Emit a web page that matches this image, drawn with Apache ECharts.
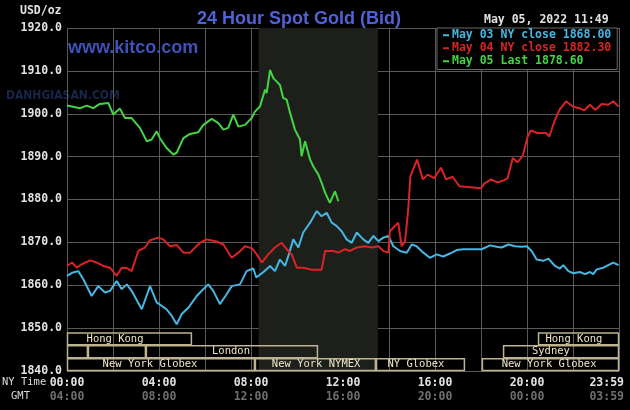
<!DOCTYPE html>
<html>
<head>
<meta charset="utf-8">
<script src="https://cdn.jsdelivr.net/npm/echarts@6/dist/echarts.min.js"></script>
<style>
html,body{margin:0;padding:0;background:#000;}
#chart{width:630px;height:410px;}
</style>
</head>
<body>
<div id="chart"></div>
<script>
// ---- Data (hours NY time, USD/oz) ----
const titleText = '24 Hour Spot Gold (Bid)';
const dateText = 'May 05, 2022 11:49';
const unitText = 'USD/oz';
const seriesNames = ['May 03 NY close 1868.00', 'May 04 NY close 1882.30', 'May 05 Last 1878.60'];
const nyTimeLabels = ['00:00', '04:00', '08:00', '12:00', '16:00', '20:00', '23:59'];
const gmtLabels = ['04:00', '08:00', '12:00', '16:00', '20:00', '00:00', '03:59'];

const may03 = [
[0.00,1862.2],[0.22,1862.9],[0.49,1863.3],[0.71,1861.4],[1.07,1857.5],[1.36,1859.8],[1.65,1858.3],[1.87,1858.7],
[2.16,1861.0],[2.38,1859.1],[2.60,1860.2],[2.81,1858.7],[3.25,1854.4],[3.61,1859.8],[3.90,1856.0],[4.33,1854.4],
[4.55,1852.9],[4.77,1850.9],[4.99,1853.3],[5.28,1854.8],[5.64,1857.5],[5.86,1858.7],[6.14,1860.2],[6.36,1858.7],
[6.65,1855.6],[6.94,1857.9],[7.16,1859.8],[7.52,1860.2],[7.81,1863.3],[8.10,1863.9],[8.23,1861.8],[8.52,1863.0],
[8.83,1864.5],[9.04,1863.3],[9.26,1866.0],[9.48,1864.5],[9.62,1866.8],[9.84,1870.7],[10.06,1868.8],[10.27,1872.3],
[10.57,1874.6],[10.86,1877.3],[11.07,1876.1],[11.29,1876.9],[11.51,1874.6],[11.73,1873.8],[11.94,1872.6],[12.16,1870.7],
[12.38,1869.9],[12.60,1872.3],[12.88,1870.7],[13.10,1869.9],[13.32,1871.5],[13.54,1870.3],[13.75,1871.1],[13.97,1871.5],
[14.19,1869.1],[14.48,1868.0],[14.77,1867.6],[14.99,1869.5],[15.20,1869.1],[15.49,1867.6],[15.78,1866.4],[16.07,1867.2],
[16.36,1866.7],[16.65,1867.4],[16.94,1868.2],[17.23,1868.4],[18.03,1868.4],[18.39,1869.3],[18.68,1869.0],[18.90,1868.8],
[19.19,1869.5],[19.48,1869.1],[19.77,1869.0],[19.99,1869.1],[20.20,1868.0],[20.42,1866.0],[20.71,1865.7],[20.93,1866.2],
[21.22,1864.5],[21.43,1863.9],[21.58,1864.7],[21.80,1863.3],[22.01,1862.8],[22.30,1863.1],[22.52,1862.6],[22.74,1863.1],
[22.88,1862.6],[23.03,1863.7],[23.32,1864.1],[23.53,1864.7],[23.75,1865.3],[23.98,1864.7]
];

const may04 = [
[0.00,1864.5],[0.22,1865.3],[0.42,1864.1],[0.64,1864.9],[1.00,1865.8],[1.29,1865.3],[1.58,1864.5],[1.87,1864.1],
[2.16,1862.2],[2.38,1864.1],[2.60,1864.0],[2.81,1863.3],[3.10,1868.0],[3.39,1868.8],[3.61,1870.5],[3.97,1871.1],
[4.19,1870.7],[4.48,1869.1],[4.77,1869.4],[5.06,1867.6],[5.35,1867.6],[5.78,1869.9],[6.07,1870.7],[6.51,1870.2],
[6.80,1869.5],[7.16,1866.4],[7.45,1867.6],[7.74,1869.1],[8.05,1868.6],[8.25,1867.2],[8.47,1865.3],[8.75,1867.2],
[9.04,1868.8],[9.33,1869.9],[9.55,1868.4],[9.77,1867.2],[9.99,1864.1],[10.28,1864.1],[10.64,1863.6],[11.07,1863.6],
[11.22,1868.0],[11.58,1868.0],[11.80,1867.6],[12.09,1868.4],[12.30,1868.0],[12.60,1868.8],[12.95,1869.1],[13.25,1868.8],
[13.54,1869.1],[13.75,1868.0],[13.97,1867.6],[14.04,1872.6],[14.40,1874.6],[14.55,1869.1],[14.70,1870.3],[14.84,1878.0],
[14.93,1885.4],[15.22,1889.3],[15.47,1884.7],[15.68,1885.8],[15.97,1885.0],[16.26,1887.4],[16.48,1884.7],[16.77,1885.3],
[17.06,1883.1],[18.00,1882.6],[18.14,1883.7],[18.43,1884.7],[18.72,1884.0],[19.01,1884.5],[19.16,1885.0],[19.38,1889.7],
[19.59,1888.7],[19.81,1890.1],[20.03,1894.7],[20.17,1896.1],[20.46,1895.5],[20.83,1895.5],[20.97,1894.7],[21.19,1898.2],
[21.41,1900.9],[21.70,1902.9],[21.99,1901.7],[22.27,1901.3],[22.49,1900.8],[22.74,1902.1],[22.96,1900.9],[23.25,1902.3],
[23.53,1902.1],[23.75,1902.9],[23.98,1901.7]
];

const may05 = [
[0.00,1901.9],[0.57,1901.3],[0.86,1901.9],[1.14,1901.3],[1.43,1902.3],[1.80,1902.5],[2.01,1899.8],[2.30,1901.2],
[2.52,1899.0],[2.81,1899.0],[3.17,1896.7],[3.47,1893.6],[3.68,1894.0],[3.90,1895.9],[4.04,1894.3],[4.33,1892.0],
[4.62,1890.5],[4.77,1890.9],[5.06,1894.3],[5.35,1895.3],[5.71,1895.7],[5.93,1897.4],[6.29,1898.8],[6.58,1897.8],
[6.80,1896.3],[7.01,1896.7],[7.23,1899.8],[7.45,1897.0],[7.74,1897.4],[8.03,1899.0],[8.17,1900.5],[8.39,1901.7],
[8.61,1905.6],[8.68,1904.8],[8.83,1910.2],[8.97,1908.3],[9.12,1907.5],[9.26,1906.7],[9.40,1903.7],[9.55,1903.3],
[9.70,1900.2],[9.91,1896.3],[10.13,1894.0],[10.20,1890.1],[10.35,1893.6],[10.57,1889.3],[10.71,1887.7],[10.93,1885.8],
[11.07,1883.9],[11.22,1881.6],[11.43,1879.2],[11.65,1881.9],[11.80,1879.6]
];

// sessions: [startHour, endHour, row(0=NY,1=London/Sydney,2=HK), labelHour, label]
const sessions = [
[0.00, 5.43, 2, 2.09, 'Hong Kong'],
[0.00, 0.91, 1, null, ''],
[0.91, 3.43, 1, null, ''],
[3.43, 10.91, 1, 7.13, 'London'],
[0.00, 8.17, 0, 3.61, 'New York Globex'],
[8.17, 13.43, 0, 10.83, 'New York NYMEX'],
[13.43, 17.30, 0, 15.17, 'NY Globex'],
[18.04, 24.00, 0, 20.96, 'New York Globex'],
[18.96, 24.00, 1, 21.04, 'Sydney'],
[20.48, 24.00, 2, 22.04, 'Hong Kong']
];
const nymexPit = [8.333, 13.52];

const colors = ['#46b6e2', '#d82424', '#42d442'];
const mono = 'DejaVu Sans Mono';

const chart = echarts.init(document.getElementById('chart'));
const lineSeries = [may03, may04, may05].map((d, i) => ({
  name: seriesNames[i],
  type: 'line',
  data: d,
  showSymbol: false,
  symbol: 'none',
  z: 5,
  lineStyle: { color: colors[i], width: 2 },
  itemStyle: { color: colors[i] },
  animation: false
}));

const option = {
  backgroundColor: '#000',
  animation: false,
  grid: { left: 67, right: 11, top: 28, bottom: 39, outerBoundsMode: 'none', containLabel: false },
  title: {
    text: titleText, left: 294, textAlign: 'center', top: 5,
    textStyle: { color: '#5062d4', fontSize: 18, fontWeight: 'bold', fontFamily: 'Liberation Sans' }
  },
  legend: {
    left: 437, top: 28, orient: 'vertical',
    backgroundColor: '#000', borderColor: '#6a6a6a', borderWidth: 1,
    padding: [1, 6, 2, 6], itemGap: 0.5, itemWidth: 6, itemHeight: 2, icon: 'rect',
    textStyle: { fontFamily: mono, fontSize: 11.5, fontWeight: 'bold', lineHeight: 12.5, padding: [0, 0, 0, -2] },
    data: seriesNames.map((n, i) => ({ name: n, textStyle: { color: colors[i] } }))
  },
  xAxis: {
    type: 'value', min: 0, max: 24, interval: 2,
    axisLine: { show: false }, axisTick: { show: false },
    splitLine: { show: true, lineStyle: { color: '#5a5a5a', width: 1 } },
    axisLabel: {
      margin: 5,
      showMinLabel: true, showMaxLabel: true, hideOverlap: false,
      alignMaxLabel: 'right',
      formatter: v => {
        if (v % 4 !== 0) return '';
        const i = v / 4;
        if (i === nyTimeLabels.length - 1) return '{c|' + nyTimeLabels[i] + '}\n{d|' + gmtLabels[i] + '}';
        return '{a|' + nyTimeLabels[i] + '}\n{b|' + gmtLabels[i] + '}';
      },
      rich: {
        a: { color: '#e2e2e2', fontFamily: mono, fontSize: 11.5, fontWeight: 'bold', lineHeight: 14 },
        b: { color: '#6e6e6e', fontFamily: mono, fontSize: 11.5, fontWeight: 'bold', lineHeight: 14 },
        c: { color: '#e2e2e2', fontFamily: mono, fontSize: 11.5, fontWeight: 'bold', lineHeight: 14, padding: [0, -5, 0, 0] },
        d: { color: '#6e6e6e', fontFamily: mono, fontSize: 11.5, fontWeight: 'bold', lineHeight: 14, padding: [0, -5, 0, 0] }
      }
    }
  },
  yAxis: {
    type: 'value', min: 1840, max: 1920, interval: 10,
    axisLine: { show: false }, axisTick: { show: false },
    splitLine: { show: true, lineStyle: { color: '#5a5a5a', width: 1 } },
    axisLabel: {
      margin: 5, color: '#e2e2e2', fontFamily: mono, fontSize: 11.5, fontWeight: 'bold',
      formatter: v => v.toFixed(1)
    }
  },
  graphic: [
    { type: 'text', left: 20, top: 5, style: { text: unitText, fill: '#e2e2e2', font: 'bold 11.5px "DejaVu Sans Mono"' } },
    { type: 'text', left: 484, top: 14, style: { text: dateText, fill: '#e2e2e2', font: 'bold 11.5px "DejaVu Sans Mono"' } },
    { type: 'text', left: 2, top: 377, style: { text: 'NY Time', fill: '#dcdcdc', font: '10.5px "DejaVu Sans Mono"' } },
    { type: 'text', left: 11, top: 391, style: { text: 'GMT', fill: '#dcdcdc', font: '10.5px "DejaVu Sans Mono"' } },
    { type: 'text', left: 6, top: 90, z: 0, style: { text: 'DANHGIASAN.COM', fill: '#18264a', font: 'bold 12px "DejaVu Sans Condensed"' } },
    { type: 'text', left: 68, top: 39, z: 10, style: { text: 'www.kitco.com', fill: '#3e52b8', font: 'bold 18px "Liberation Sans"' } }
  ],
  series: [
    {
      type: 'custom',
      name: 'sessions',
      z: 2,
      silent: true,
      data: sessions,
      encode: { x: [0, 1], y: 2 },
      renderItem: (params, api) => {
        const s = api.value(0), e = api.value(1), row = api.value(2);
        const base = 1840 + row * 3;
        const p0 = api.coord([s, base + 3]);
        const p1 = api.coord([e, base]);
        const children = [{
          type: 'rect',
          shape: { x: p0[0] + 0.5, y: p0[1] + 0.5, width: p1[0] - p0[0] - 1, height: p1[1] - p0[1] - 1 },
          style: { fill: 'none', stroke: '#bdb38e', lineWidth: 1.5 }
        }];
        const item = sessions[params.dataIndex];
        if (item[4]) {
          const c = api.coord([item[3], base + 1.5]);
          children.push({
            type: 'text', x: c[0], y: c[1],
            style: { text: item[4], fill: '#efe5c6', font: '10.5px "DejaVu Sans Mono"', textAlign: 'center', textVerticalAlign: 'middle' }
          });
        }
        return { type: 'group', children };
      },
      markArea: {
        silent: true,
        itemStyle: { color: '#1c1f1a' },
        data: [[{ xAxis: nymexPit[0] }, { xAxis: nymexPit[1] }]]
      }
    },
    ...lineSeries
  ]
};
chart.setOption(option);
</script>
</body>
</html>
